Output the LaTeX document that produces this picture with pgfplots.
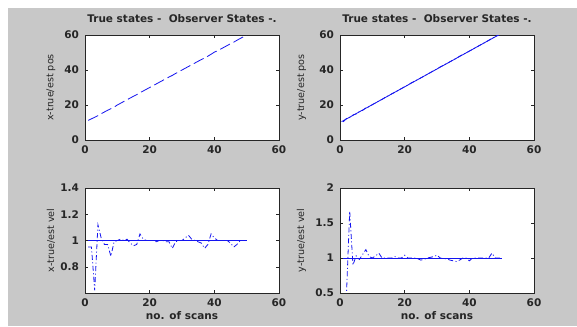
\documentclass[border=0pt]{standalone}
\usepackage{pgfplots}
\pgfplotsset{compat=1.18}
\usepackage{fontspec}
\setmainfont{DejaVu Sans}
\definecolor{figgray}{RGB}{200,200,200}
\definecolor{lineblue}{RGB}{20,20,240}

\pgfplotsset{
  matstyle/.style={
    scale only axis, width=194pt, height=105pt,
    anchor=south west,
    xmin=0, xmax=60, xtick={0,20,40,60},
    axis background/.style={fill=white},
    axis line style={black!85, line width=0.6pt},
    tick style={black!85, line width=0.5pt},
    major tick length=3pt,
    tick align=inside,
    /pgf/number format/assume math mode=true,
    tick label style={font=\fontsize{10.5}{12}\selectfont\bfseries, text=black!85},
    xticklabel style={yshift=-2pt},
    yticklabel style={xshift=-2.5pt},
    title style={font=\fontsize{10.5}{12}\selectfont\bfseries, at={(axis description cs:0.5,1)}, anchor=base, yshift=7pt, text=black!85},
    ylabel style={font=\fontsize{9.6}{11}\selectfont, anchor=center, text=black!85},
    xlabel style={font=\fontsize{10.5}{12}\selectfont\bfseries, at={(axis description cs:0.5,0)}, anchor=base, yshift=-26pt, text=black!85},
  },
  estdd/.style={lineblue, line width=0.8pt, dash pattern=on 5pt off 2.5pt on 1pt off 2.5pt},
  truesolid/.style={lineblue, line width=0.8pt, solid},
}

\begin{document}
\begin{tikzpicture}
\useasboundingbox (0pt,0pt) rectangle (577pt,326pt);
\fill[white] (0pt,0pt) rectangle (577pt,326pt);
\fill[figgray] (8pt,0pt) rectangle (577pt,318pt);

% top-left
\begin{axis}[matstyle, at={(85pt,186pt)},
  ymin=0, ymax=60, ytick={0,20,40,60},
  title={True states -\ \ Observer States -.},
  ylabel={x-true/est pos},
  ylabel style={at={(axis description cs:-0.176,0.5)}}]
\addplot[lineblue, line width=0.8pt, dash pattern=on 11pt off 4pt] coordinates {
(1,11.2) (2,12.1) (3,13.0) (4,13.9) (5,15.0) (6,16.0) (7,17.0) (8,17.9) (9,18.8) (10,20.0)
(11,21.0) (12,22.0) (13,23.0) (14,24.0) (15,25.0) (16,25.9) (17,27.1) (18,28.0) (19,29.0) (20,30.0)
(21,31.0) (22,32.0) (23,33.0) (24,34.0) (25,35.0) (26,36.0) (27,36.9) (28,38.0) (29,39.0) (30,40.0)
(31,41.0) (32,42.0) (33,43.0) (34,44.0) (35,45.0) (36,46.0) (37,46.9) (38,47.9) (39,49.0) (40,50.2)
(41,51.0) (42,52.0) (43,53.0) (44,54.0) (45,55.0) (46,55.9) (47,57.0) (48,58.0) (49,59.0) (50,60.0)
};
\end{axis}

% top-right
\begin{axis}[matstyle, at={(340pt,186pt)},
  ymin=0, ymax=60, ytick={0,20,40,60},
  title={True states -\ \ Observer States -.},
  ylabel={y-true/est pos},
  ylabel style={at={(axis description cs:-0.198,0.5)}}]
\addplot[truesolid] coordinates {(0.5,10.5) (50,61)};
\addplot[estdd] coordinates {
(1,10.4) (2,12.3) (3,12.8) (4,14.3) (5,14.9) (6,16.2) (7,16.9) (8,18.4) (9,19.0) (10,20.2)
(11,21.2) (12,22.3) (13,23.2) (14,24.4) (15,25.3) (16,26.4) (17,27.3) (18,28.4) (19,29.4) (20,30.4)
(21,31.4) (22,32.6) (23,33.5) (24,34.5) (25,35.5) (26,36.5) (27,37.6) (28,38.6) (29,39.6) (30,40.6)
(31,41.8) (32,42.7) (33,43.7) (34,44.7) (35,45.7) (36,46.7) (37,47.9) (38,48.8) (39,49.8) (40,50.8)
(41,51.8) (42,52.9) (43,53.9) (44,54.9) (45,55.9) (46,57.0) (47,58.0) (48,59.0) (49,60.0) (50,61.0)
};
\end{axis}

% bottom-left
\begin{axis}[matstyle, at={(85pt,33pt)},
  ymin=0.6, ymax=1.4, ytick={0.8,1,1.2,1.4},
  ylabel={x-true/est vel}, xlabel={no. of scans},
  ylabel style={at={(axis description cs:-0.176,0.5)}}]
\addplot[truesolid] coordinates {(1,1) (50,1)};
\addplot[estdd] coordinates {
(1,0.95) (2,0.95) (3,0.62) (4,1.12) (5,1.02) (6,0.97) (7,0.97) (8,0.88) (9,0.99) (10,1.00)
(11,1.01) (12,1.00) (13,1.01) (14,0.98) (15,0.96) (16,0.97) (17,1.05) (18,1.01) (19,1.00) (20,1.00)
(21,1.00) (22,0.99) (23,1.00) (24,1.00) (25,0.99) (26,0.99) (27,0.94) (28,0.99) (29,1.00) (30,1.00)
(31,1.02) (32,1.04) (33,1.01) (34,1.00) (35,0.99) (36,0.98) (37,0.94) (38,0.97) (39,1.05) (40,1.02)
(41,1.00) (42,1.00) (43,1.00) (44,1.00) (45,0.98) (46,0.95) (47,0.97) (48,1.00) (49,1.00) (50,1.00)
};
\end{axis}

% bottom-right
\begin{axis}[matstyle, at={(340pt,33pt)},
  ymin=0.5, ymax=2, ytick={0.5,1,1.5,2},
  ylabel={y-true/est vel}, xlabel={no. of scans},
  ylabel style={at={(axis description cs:-0.198,0.5)}}]
\addplot[truesolid] coordinates {(1,1) (50,1)};
\addplot[estdd] coordinates {
(1,0.45) (2,0.48) (3,1.67) (4,0.90) (5,1.03) (6,0.98) (7,1.05) (8,1.12) (9,1.02) (10,1.00)
(11,1.03) (12,1.07) (13,1.00) (14,1.00) (15,1.00) (16,1.00) (17,1.02) (18,1.00) (19,1.00) (20,1.04)
(21,1.00) (22,1.00) (23,1.00) (24,0.99) (25,0.97) (26,0.98) (27,1.00) (28,1.01) (29,1.02) (30,1.04)
(31,1.00) (32,0.99) (33,0.99) (34,0.97) (35,0.96) (36,0.95) (37,0.97) (38,1.00) (39,1.00) (40,0.96)
(41,1.00) (42,1.00) (43,1.00) (44,1.00) (45,1.00) (46,1.00) (47,1.07) (48,1.00) (49,1.00) (50,1.00)
};
\end{axis}
\end{tikzpicture}
\end{document}
